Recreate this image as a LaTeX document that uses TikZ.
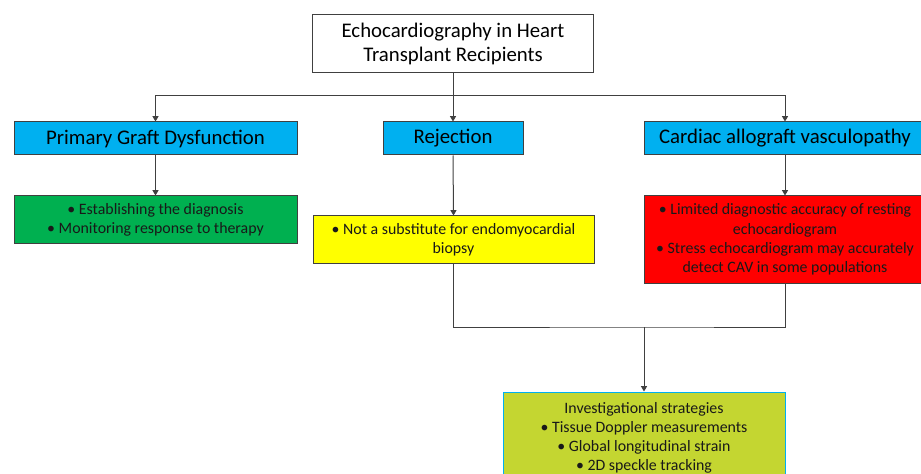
\documentclass[tikz,border=0pt]{standalone}
\usepackage{fontspec}
\setmainfont{Carlito}
\usetikzlibrary{arrows.meta}
\definecolor{catblue}{HTML}{00B0F0}
\definecolor{pgdgreen}{HTML}{00B050}
\definecolor{rejyellow}{HTML}{FFFF00}
\definecolor{cavred}{HTML}{FF0000}
\definecolor{involive}{HTML}{C4D631}
\definecolor{linegray}{HTML}{404040}

\begin{document}
\begin{tikzpicture}[x=0.75pt,y=-0.75pt,
  head/.style={rectangle,draw=linegray,fill=white,line width=.75pt,align=center,
    minimum width=210.75pt,minimum height=43.5pt,inner sep=0pt,font=\fontsize{15.6}{18}\selectfont},
  topic/.style={rectangle,draw=linegray,fill=catblue,line width=.75pt,align=center,
    minimum height=24.75pt,inner sep=0pt,font=\fontsize{15.6}{17}\selectfont},
  note/.style={rectangle,draw=linegray,line width=.75pt,align=center,
    inner sep=0pt,text=black!90,font=\fontsize{11.9}{14.4}\selectfont},
  link/.style={draw=linegray,line width=.75pt},
  arr/.style={link,-{Triangle[width=4.5pt,length=4pt]}}]
  \clip (0,0) rectangle (921,474);
  \useasboundingbox (0,0) rectangle (921,474);
  \node[head] (echo) at (453,44) {Echocardiography in Heart\\Transplant Recipients};
  % Three complications
  \node[topic,minimum width=212.25pt] (pgd) at (155.5,138.5) {Primary Graft Dysfunction};
  \node[topic,minimum width=105pt] (rej) at (453,138.5) {Rejection};
  \node[topic,minimum width=211.5pt] (cav) at (785,138.5) {Cardiac allograft vasculopathy};
  % Findings below each
  \node[note,fill=pgdgreen,minimum width=212.25pt,minimum height=35.25pt] (pgdnote) at (155.5,219.5)
    {\textbullet\ Establishing the diagnosis\\\textbullet\ Monitoring response to therapy};
  \node[note,fill=rejyellow,minimum width=210.75pt,minimum height=35.25pt] (rejnote) at (453.5,239.5)
    {\textbullet\ Not a substitute for endomyocardial\\biopsy};
  \node[note,fill=cavred,minimum width=211.5pt,minimum height=65.25pt] (cavnote) at (785,239.5)
    {\textbullet\ Limited diagnostic accuracy of resting\\echocardiogram\\
     \textbullet\ Stress echocardiogram may accurately\\detect CAV in some populations};
  \node[note,draw=catblue,fill=involive,minimum width=211.5pt,minimum height=69pt] (invest) at (644,438)
    {Investigational strategies\\\textbullet\ Tissue Doppler measurements\\
     \textbullet\ Global longitudinal strain\\\textbullet\ 2D speckle tracking};
  \coordinate (split) at (453,96);
  \coordinate (merge) at (644,327);
  % Split from the title
  \draw[arr] (echo.south) -- (rej.north);
  \draw[arr] (split) -| (pgd.north);
  \draw[arr] (split) -| (cav.north);
  \foreach \a/\b in {pgd/pgdnote,rej/rejnote,cav/cavnote}
    \draw[arr] (\a.south) -- (\b.north);
  % Join rejection and CAV into the last box
  \draw[link] (rejnote.south) |- (merge) -| (cavnote.south);
  \draw[arr] (merge) -- (invest.north);
\end{tikzpicture}
\end{document}
